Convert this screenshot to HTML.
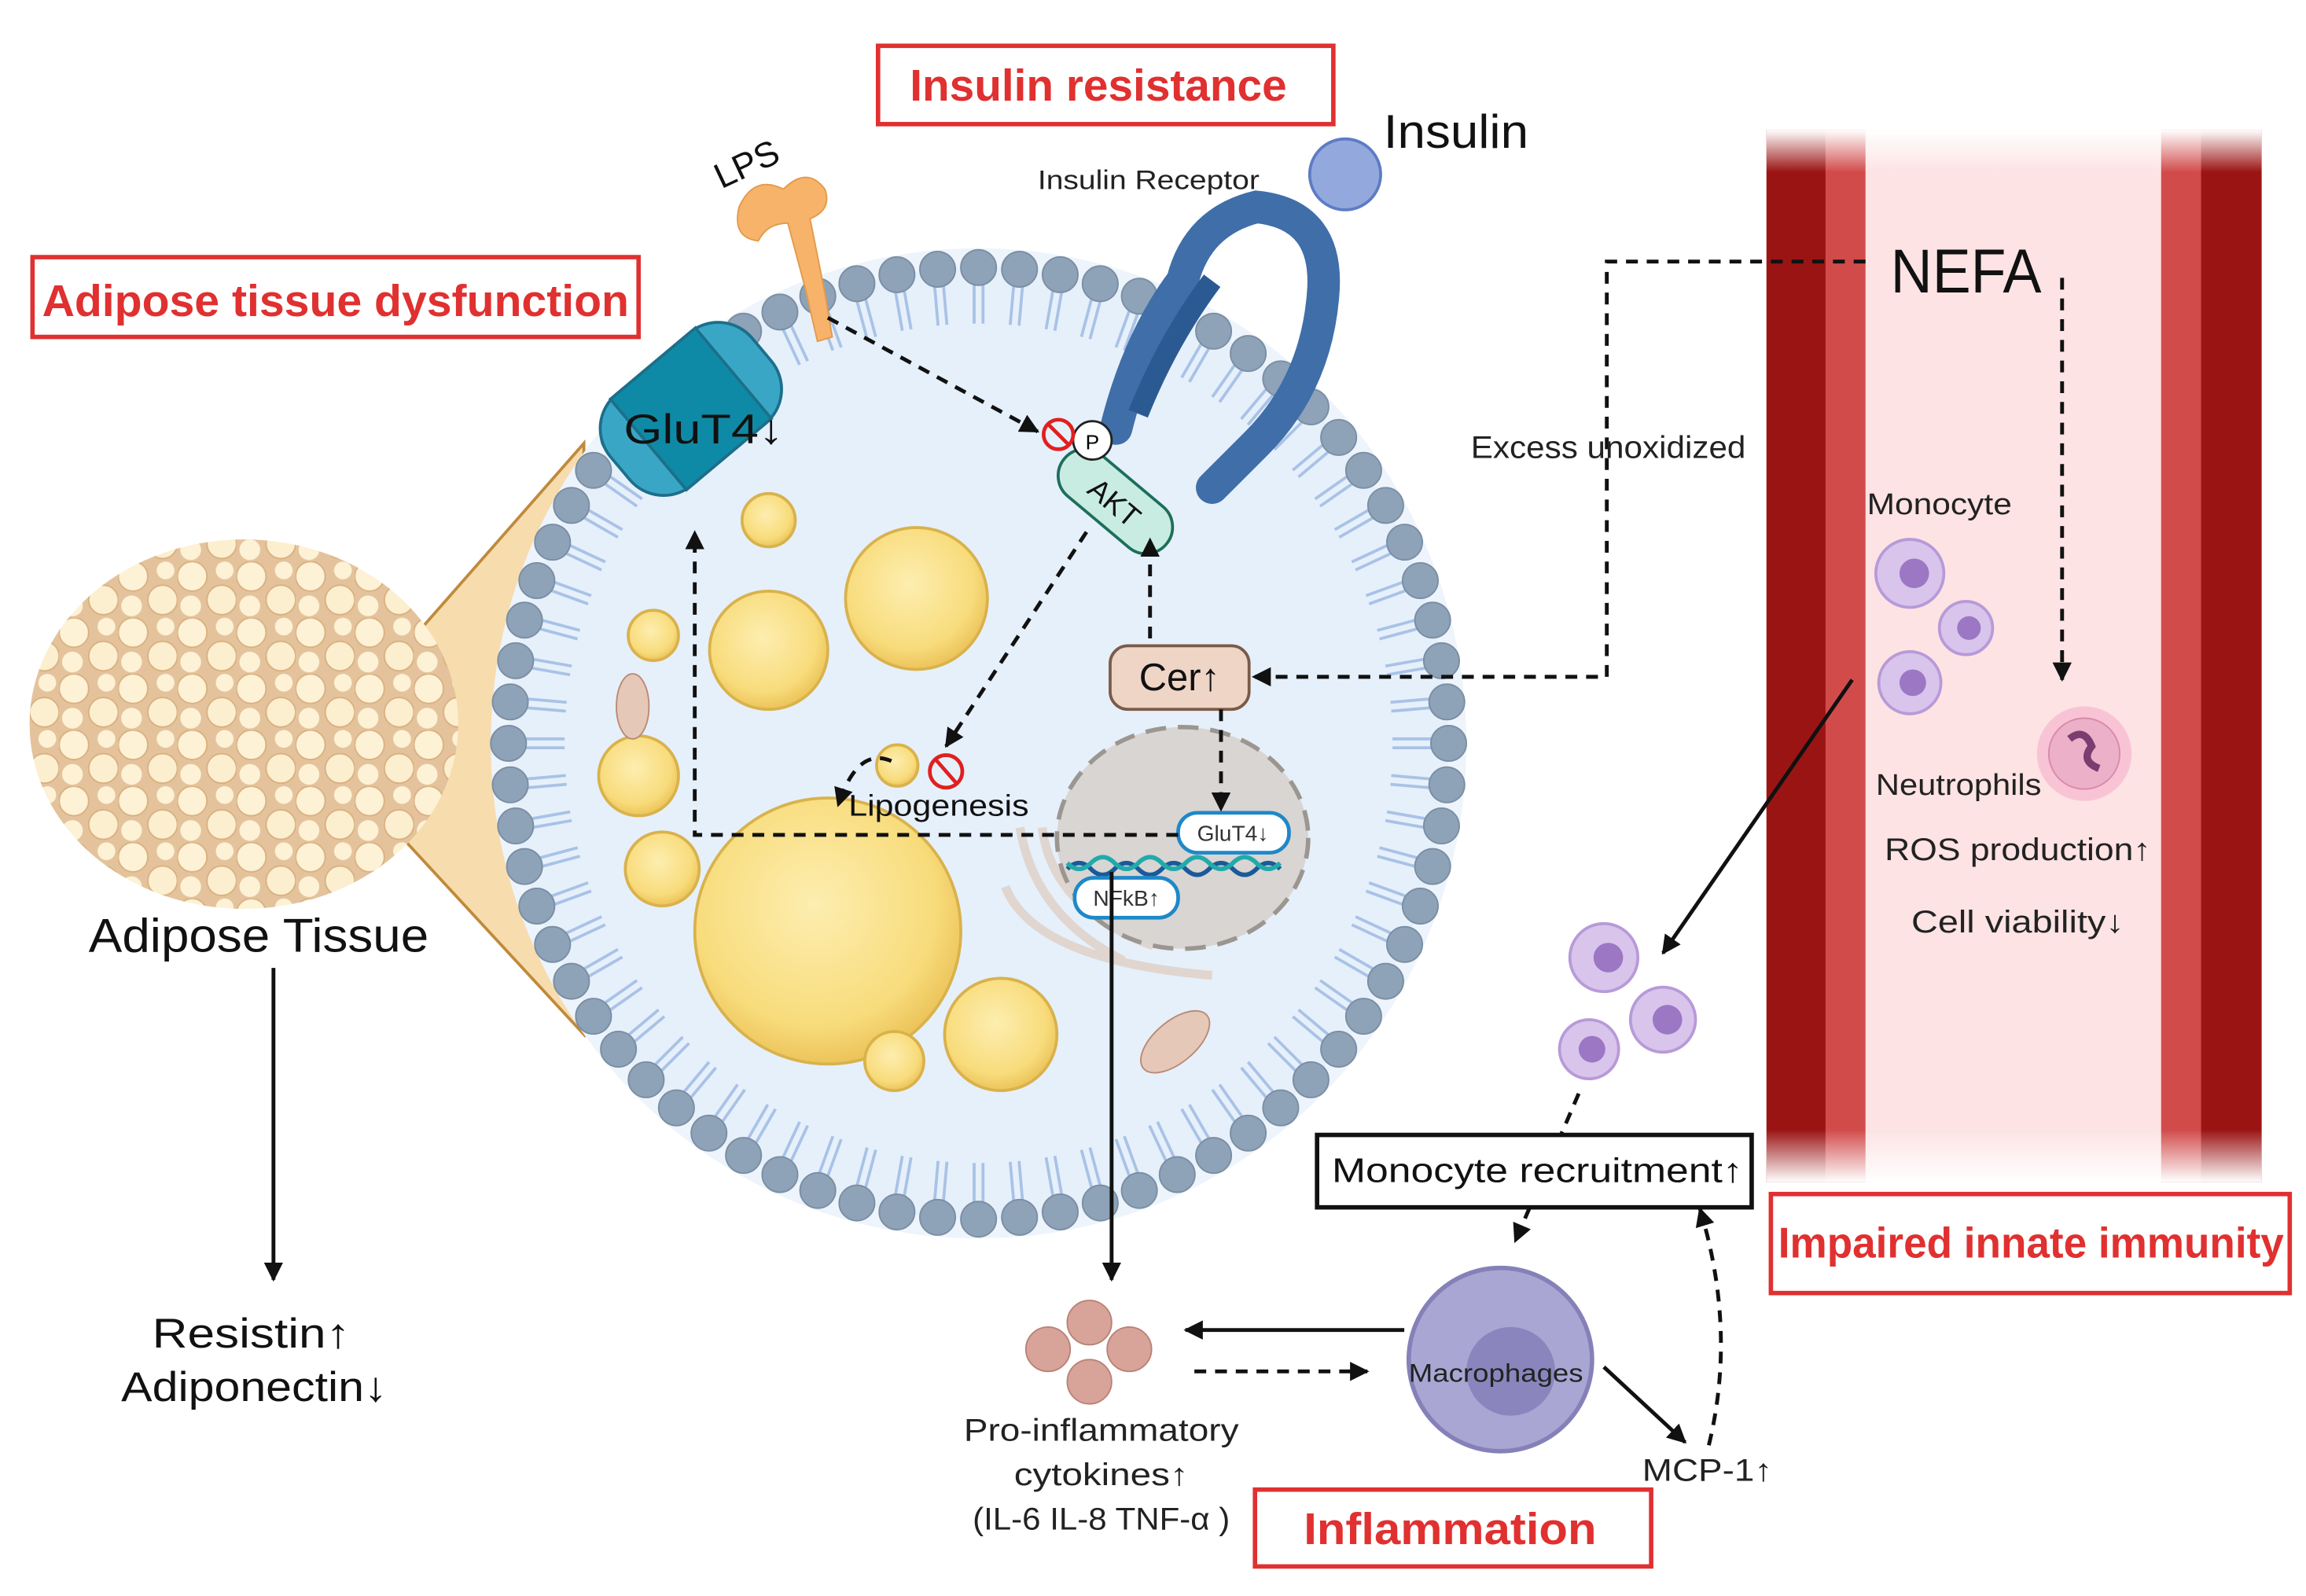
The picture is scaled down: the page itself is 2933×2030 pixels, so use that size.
<!DOCTYPE html>
<html><head><meta charset="utf-8">
<style>
html,body{margin:0;padding:0;background:#fff;}
svg{display:block;}
text{font-family:"Liberation Sans",sans-serif;}
</style></head>
<body>
<svg id="s" width="2933" height="2030" viewBox="0 0 1560 1080" preserveAspectRatio="none" xmlns="http://www.w3.org/2000/svg">
<defs>
<marker id="ah" viewBox="0 0 10 10" refX="9" refY="5" markerWidth="5" markerHeight="5" orient="auto-start-reverse"><path d="M0,0 L10,5 L0,10 z" fill="#111"/></marker>
<linearGradient id="vfade" x1="0" y1="0" x2="0" y2="1">
<stop offset="0" stop-color="#fff" stop-opacity="1"/><stop offset="0.04" stop-color="#fff" stop-opacity="0"/>
<stop offset="0.95" stop-color="#fff" stop-opacity="0"/><stop offset="1" stop-color="#fff" stop-opacity="1"/></linearGradient>
<radialGradient id="fat" cx="0.45" cy="0.4" r="0.6"><stop offset="0" stop-color="#fdeeb0"/><stop offset="0.75" stop-color="#f8dc7c"/><stop offset="1" stop-color="#ecc45a"/></radialGradient>
<pattern id="adip" width="40" height="38" patternUnits="userSpaceOnUse">
<rect width="40" height="38" fill="#e4c39c"/><circle cx="10" cy="10" r="10" fill="#fdf2d6" stroke="#d9b080" stroke-width="1"/><circle cx="30" cy="26" r="10" fill="#fcefd0" stroke="#d9b080" stroke-width="1"/><circle cx="32" cy="6" r="6" fill="#fdf2d6"/><circle cx="9" cy="30" r="7" fill="#fdf2d6"/></pattern>
</defs>

<rect x="1195" y="88" width="335" height="712" fill="#fde3e3"/>
<rect x="1195" y="88" width="40" height="712" fill="#9b1414"/>
<rect x="1235" y="88" width="27" height="712" fill="#d24b4b"/>
<rect x="1462" y="88" width="27" height="712" fill="#d24b4b"/>
<rect x="1489" y="88" width="41" height="712" fill="#9b1414"/>
<rect x="1195" y="88" width="335" height="712" fill="url(#vfade)"/>

<polygon points="215,505 395,300 395,700" fill="#f7dcae" stroke="#c08a3a" stroke-width="2"/>
<ellipse cx="165" cy="490" rx="145" ry="125" fill="url(#adip)"/>

<ellipse cx="662" cy="503" rx="330" ry="335" fill="#edf4fb"/>
<ellipse cx="662" cy="503" rx="318" ry="322" fill="#e6f0fb"/>
<g id="mem"></g>

<g stroke="#d9b24c" stroke-width="2" fill="url(#fat)">
<circle cx="560" cy="630" r="90"/><circle cx="620" cy="405" r="48"/><circle cx="520" cy="440" r="40"/>
<circle cx="677" cy="700" r="38"/><circle cx="448" cy="588" r="25"/><circle cx="432" cy="525" r="27"/>
<circle cx="442" cy="430" r="17"/><circle cx="520" cy="352" r="18"/><circle cx="605" cy="718" r="20"/><circle cx="607" cy="518" r="14"/>
</g>
<ellipse cx="428" cy="478" rx="11" ry="22" fill="#e6c8b8" stroke="#b98a75"/>
<ellipse cx="795" cy="705" rx="14" ry="28" transform="rotate(50 795 705)" fill="#e6c8b8" stroke="#b98a75"/>
<g fill="none" stroke="#e0d6cf" stroke-width="6">
<path d="M690,560 Q700,620 760,650"/><path d="M705,560 Q712,615 780,640"/><path d="M680,600 Q700,650 820,660"/>
</g>

<ellipse cx="800" cy="567" rx="85" ry="75" fill="#d8d5d3" stroke="#9c9690" stroke-width="3" stroke-dasharray="14 8"/>
<path d="M722,588 q8,-8 16,0 t16,0 t16,0 t16,0 t16,0 t16,0 t16,0 t16,0 t16,0" fill="none" stroke="#1a5a9a" stroke-width="3"/>
<path d="M722,584 q8,8 16,0 t16,0 t16,0 t16,0 t16,0 t16,0 t16,0 t16,0 t16,0" fill="none" stroke="#2aa" stroke-width="3"/>
<rect x="797" y="550" width="75" height="27" rx="13" fill="#fff" stroke="#1e88c8" stroke-width="2.5"/>
<text x="834" y="569" font-size="15" text-anchor="middle" fill="#333">GluT4↓</text>
<rect x="727" y="594" width="70" height="27" rx="13" fill="#fff" stroke="#1e88c8" stroke-width="2.5"/>
<text x="762" y="613" font-size="15" text-anchor="middle" fill="#333">NFkB↑</text>

<g transform="rotate(-40 467 277)">
<rect x="405" y="237" width="125" height="80" rx="30" fill="#3aa6c6" stroke="#1c6f8a" stroke-width="2"/>
<rect x="430" y="237" width="75" height="80" fill="#0f8aa6" stroke="#1c6f8a" stroke-width="2"/>
</g>
<text x="476" y="300" font-size="28" text-anchor="middle" fill="#111" textLength="108" lengthAdjust="spacingAndGlyphs">GluT4↓</text>

<g fill="#f7b36a" stroke="#e39a4c">
<path d="M500,140 q10,-22 30,-12 q16,-16 28,0 q5,14 -10,20 l10,50 l5,30 l-10,3 l-8,-35 l-12,-45 q-14,0 -20,12 q-18,-2 -13,-23z"/>
</g>
<text x="0" y="0" font-size="24" transform="translate(488,128) rotate(-25)" fill="#111">LPS</text>

<path d="M755,290 Q770,230 800,190 Q810,150 850,140 Q900,145 895,200 Q890,260 850,300 L820,330" fill="none" stroke="#3f6ea8" stroke-width="22" stroke-linecap="round"/>
<path d="M770,280 Q790,230 820,190" fill="none" stroke="#2b5a92" stroke-width="14"/>
<circle cx="910" cy="118" r="24" fill="#93a9de" stroke="#5d7cc4" stroke-width="2"/>
<text x="936" y="100" font-size="32" fill="#111" textLength="98" lengthAdjust="spacingAndGlyphs">Insulin</text>
<text x="777" y="128" font-size="18" text-anchor="middle" fill="#222" textLength="150" lengthAdjust="spacingAndGlyphs">Insulin Receptor</text>

<g transform="rotate(40 753 338)">
<rect x="710" y="320" width="90" height="36" rx="18" fill="#c8ece2" stroke="#1d6f5a" stroke-width="2"/>
<text x="755" y="346" font-size="20" text-anchor="middle" fill="#111">AKT</text>
</g>
<circle cx="739" cy="298" r="13" fill="#fff" stroke="#222" stroke-width="1.5"/>
<text x="739" y="304" font-size="14" text-anchor="middle">P</text>
<circle cx="716" cy="294" r="10" fill="none" stroke="#e02020" stroke-width="2.5"/><line x1="709" y1="287" x2="723" y2="301" stroke="#e02020" stroke-width="2.5"/>
<circle cx="640" cy="522" r="11" fill="none" stroke="#e02020" stroke-width="2.5"/><line x1="633" y1="514" x2="647" y2="530" stroke="#e02020" stroke-width="2.5"/>

<rect x="751" y="437" width="94" height="43" rx="12" fill="#eed5c6" stroke="#7a5a48" stroke-width="2"/>
<text x="798" y="467" font-size="26" text-anchor="middle" fill="#111">Cer↑</text>

<g fill="none" stroke="#111" stroke-width="2.6" stroke-dasharray="8 6">
<path d="M560,215 L702,292" marker-end="url(#ah)"/>
<path d="M735,360 L640,505" marker-end="url(#ah)"/>
<path d="M778,432 L778,365" marker-end="url(#ah)"/>
<path d="M826,480 L826,548" marker-end="url(#ah)"/>
<path d="M797,565 L470,565 L470,360" marker-end="url(#ah)"/>
<path d="M603,515 Q580,505 567,545" marker-end="url(#ah)"/>
<path d="M1262,177 L1087,177 L1087,458 L848,458" marker-end="url(#ah)"/>
<path d="M1395,188 L1395,460" marker-end="url(#ah)"/>
<path d="M1068,740 L1025,840" marker-end="url(#ah)"/>
<path d="M808,928 L925,928" marker-end="url(#ah)"/>
<path d="M1156,978 Q1175,900 1150,818" marker-end="url(#ah)"/>
</g>
<text x="635" y="552" font-size="20" text-anchor="middle" fill="#111" textLength="122" lengthAdjust="spacingAndGlyphs">Lipogenesis</text>

<g fill="none" stroke="#111" stroke-width="2.6">
<path d="M185,655 L185,866" marker-end="url(#ah)"/>
<path d="M752,590 L752,866" marker-end="url(#ah)"/>
<path d="M1253,460 L1125,645" marker-end="url(#ah)"/>
<path d="M950,900 L802,900" marker-end="url(#ah)"/>
<path d="M1085,925 L1140,976" marker-end="url(#ah)"/>
</g>

<text x="1330" y="198" font-size="42" text-anchor="middle" fill="#111" textLength="102" lengthAdjust="spacingAndGlyphs">NEFA</text>
<text x="1088" y="310" font-size="21" text-anchor="middle" fill="#222" textLength="186" lengthAdjust="spacingAndGlyphs">Excess unoxidized</text>
<text x="1312" y="348" font-size="20" text-anchor="middle" fill="#222" textLength="98" lengthAdjust="spacingAndGlyphs">Monocyte</text>
<text x="1325" y="538" font-size="20" text-anchor="middle" fill="#222" textLength="112" lengthAdjust="spacingAndGlyphs">Neutrophils</text>
<text x="1365" y="582" font-size="21" text-anchor="middle" fill="#222" textLength="180" lengthAdjust="spacingAndGlyphs">ROS production↑</text>
<text x="1365" y="631" font-size="21" text-anchor="middle" fill="#222" textLength="144" lengthAdjust="spacingAndGlyphs">Cell viability↓</text>

<g fill="#d9c4ec" stroke="#b79ad8" stroke-width="2">
<circle cx="1292" cy="388" r="23"/><circle cx="1330" cy="425" r="18"/><circle cx="1292" cy="462" r="21"/>
<circle cx="1085" cy="648" r="23"/><circle cx="1125" cy="690" r="22"/><circle cx="1075" cy="710" r="20"/>
</g>
<g fill="#9b77c4"><circle cx="1295" cy="388" r="10"/><circle cx="1332" cy="425" r="8"/><circle cx="1294" cy="462" r="9"/><circle cx="1088" cy="648" r="10"/><circle cx="1128" cy="690" r="10"/><circle cx="1077" cy="710" r="9"/></g>
<circle cx="1410" cy="510" r="32" fill="#f9c3d6"/><circle cx="1410" cy="510" r="24" fill="#ecb0c8" stroke="#d88aa8"/>
<path d="M1400,500 q10,-8 15,5 q-8,10 5,15" fill="none" stroke="#7a3d70" stroke-width="5"/>

<circle cx="1015" cy="920" r="62" fill="#a9a6d4" stroke="#8581b8" stroke-width="3"/>
<circle cx="1022" cy="928" r="30" fill="#8a86bd"/>
<text x="1012" y="935" font-size="17" text-anchor="middle" fill="#222" textLength="118" lengthAdjust="spacingAndGlyphs">Macrophages</text>
<g fill="#d8a49a" stroke="#b98278"><circle cx="737" cy="895" r="15"/><circle cx="709" cy="913" r="15"/><circle cx="764" cy="913" r="15"/><circle cx="737" cy="935" r="15"/></g>
<text x="745" y="975" font-size="21" text-anchor="middle" fill="#222" textLength="186" lengthAdjust="spacingAndGlyphs">Pro-inflammatory</text>
<text x="745" y="1005" font-size="21" text-anchor="middle" fill="#222" textLength="118" lengthAdjust="spacingAndGlyphs">cytokines↑</text>
<text x="745" y="1035" font-size="21" text-anchor="middle" fill="#222" textLength="174" lengthAdjust="spacingAndGlyphs">(IL-6 IL-8 TNF-α )</text>
<text x="1155" y="1002" font-size="21" text-anchor="middle" fill="#222" textLength="88" lengthAdjust="spacingAndGlyphs">MCP-1↑</text>

<text x="175" y="644" font-size="32" text-anchor="middle" fill="#111" textLength="230" lengthAdjust="spacingAndGlyphs">Adipose Tissue</text>
<text x="170" y="912" font-size="28" text-anchor="middle" fill="#111" textLength="134" lengthAdjust="spacingAndGlyphs">Resistin↑</text>
<text x="172" y="948" font-size="28" text-anchor="middle" fill="#111" textLength="180" lengthAdjust="spacingAndGlyphs">Adiponectin↓</text>

<rect x="891" y="768" width="294" height="49" fill="#fff" stroke="#111" stroke-width="3"/>
<text x="1040" y="800" font-size="23" text-anchor="middle" fill="#111" textLength="278" lengthAdjust="spacingAndGlyphs">Monocyte recruitment↑</text>
<g fill="#fff" stroke="#e03030" stroke-width="3">
<rect x="594" y="31" width="308" height="53"/><rect x="22" y="174" width="410" height="54"/>
<rect x="849" y="1008" width="268" height="52"/><rect x="1198" y="808" width="351" height="67"/>
</g>
<g fill="#e03030" font-weight="bold" text-anchor="middle">
<text x="743" y="68" font-size="30" textLength="255" lengthAdjust="spacingAndGlyphs">Insulin resistance</text>
<text x="227" y="214" font-size="30" textLength="397" lengthAdjust="spacingAndGlyphs">Adipose tissue dysfunction</text>
<text x="981" y="1045" font-size="30" textLength="198" lengthAdjust="spacingAndGlyphs">Inflammation</text>
<text x="1374" y="851" font-size="29" textLength="342" lengthAdjust="spacingAndGlyphs">Impaired innate immunity</text>
</g>
</svg>
<script>
(function(){
var g=document.getElementById('mem'),cx=662,cy=503,rx=318,ry=322,n=72,h='';
for(var i=0;i<n;i++){var a=2*Math.PI*i/n,c=Math.cos(a),s=Math.sin(a);
var x=cx+rx*c,y=cy+ry*s;
h+='<line x1="'+(cx+(rx-10)*c-3*s)+'" y1="'+(cy+(ry-10)*s+3*c)+'" x2="'+(cx+(rx-38)*c-3*s)+'" y2="'+(cy+(ry-38)*s+3*c)+'" stroke="#a9c2e6" stroke-width="2"/>';
h+='<line x1="'+(cx+(rx-10)*c+3*s)+'" y1="'+(cy+(ry-10)*s-3*c)+'" x2="'+(cx+(rx-38)*c+3*s)+'" y2="'+(cy+(ry-38)*s-3*c)+'" stroke="#a9c2e6" stroke-width="2"/>';
h+='<circle cx="'+x+'" cy="'+y+'" r="12" fill="#8ea2b8" stroke="#7a8ea4"/>';}
g.innerHTML=h;})();
</script>
</body></html>
